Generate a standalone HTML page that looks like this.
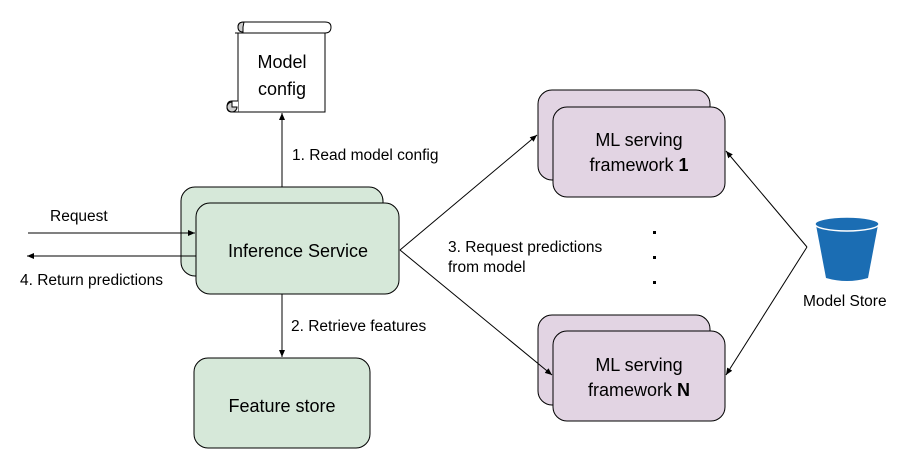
<!DOCTYPE html>
<html><head><meta charset="utf-8"><style>
html,body{margin:0;padding:0;background:#fff;width:900px;height:466px;overflow:hidden}
text{font-family:"Liberation Sans",Arial,sans-serif;fill:#000}
</style></head><body>
<svg width="900" height="466" viewBox="0 0 900 466" xmlns="http://www.w3.org/2000/svg">
<defs><marker id="a" markerWidth="8" markerHeight="8" refX="7" refY="3" orient="auto" markerUnits="userSpaceOnUse"><path d="M0,0 L7,3 L0,6 Z" fill="#000"/></marker></defs>
<g stroke="#000" stroke-width="1" fill="none">
<!-- scroll -->
<path d="M238,27 L238,112 L325,112 L325,33" fill="#fff"/>
<path d="M235,33 L325,33 Q331,33 331,27 Q331,22 325,22 L244,22 Q238,22 238,27" fill="#fff"/>
<path d="M244,22 Q238,22 238,27 Q238,32 243,32 L243,27 Z" fill="#ccc"/>
<path d="M238,112 L232,112 Q227,112 227,107 Q227,101 232,101 L238,101" fill="#fff"/>
<path d="M232,107 L232,102 A5,5 0 1 0 237,107 Z" fill="#ccc"/>
<!-- inference -->
<rect x="181" y="187" width="202" height="89" rx="14" fill="#d6e8d9"/>
<rect x="196" y="203" width="203" height="91" rx="14" fill="#d6e8d9"/>
<rect x="194" y="358" width="176" height="90" rx="14" fill="#d6e8d9"/>
<!-- ML -->
<rect x="538" y="90" width="172" height="90" rx="14" fill="#e2d4e3"/>
<rect x="553" y="107" width="172" height="90" rx="14" fill="#e2d4e3"/>
<rect x="538" y="315" width="172" height="90" rx="14" fill="#e2d4e3"/>
<rect x="553" y="331" width="172" height="90" rx="14" fill="#e2d4e3"/>
<!-- connectors -->
<line x1="282" y1="187" x2="282" y2="113" marker-end="url(#a)"/>
<line x1="282" y1="294" x2="282" y2="357" marker-end="url(#a)"/>
<line x1="28" y1="233" x2="195" y2="233" marker-end="url(#a)"/>
<line x1="196" y1="256" x2="27" y2="256" marker-end="url(#a)"/>
<line x1="400" y1="250" x2="537" y2="135" marker-end="url(#a)"/>
<line x1="400" y1="250" x2="552" y2="375" marker-end="url(#a)"/>
<line x1="807" y1="247" x2="726" y2="151" marker-end="url(#a)"/>
<line x1="807" y1="247" x2="726" y2="375" marker-end="url(#a)"/>
</g>
<rect x="653" y="231" width="3" height="3" fill="#000"/>
<rect x="653" y="256" width="3" height="3" fill="#000"/>
<rect x="653" y="281" width="3" height="3" fill="#000"/>
<!-- bucket -->
<path d="M816,225 L826,278 Q847,284 868,278 L878,225 Z" fill="#1b6db3"/>
<ellipse cx="847" cy="224" rx="32" ry="7" fill="#1b6db3" stroke="#fff" stroke-width="1.5"/>
<g font-size="18" text-anchor="middle">
<text x="282" y="68">Model</text><text x="282" y="95">config</text>
<text x="298" y="257">Inference Service</text>
<text x="282" y="412">Feature store</text>
<text x="639" y="146">ML serving</text><text x="639" y="171">framework <tspan font-weight="bold">1</tspan></text>
<text x="639" y="371">ML serving</text><text x="639" y="396">framework <tspan font-weight="bold">N</tspan></text>
</g>
<g font-size="15.5">
<text x="292" y="160">1. Read model config</text>
<text x="291" y="331">2. Retrieve features</text>
<text x="448" y="252">3. Request predictions</text>
<text x="448" y="272">from model</text>
<text x="50" y="221">Request</text>
<text x="20" y="285">4. Return predictions</text>
<text x="803" y="306">Model Store</text>
</g>
</svg>
</body></html>
